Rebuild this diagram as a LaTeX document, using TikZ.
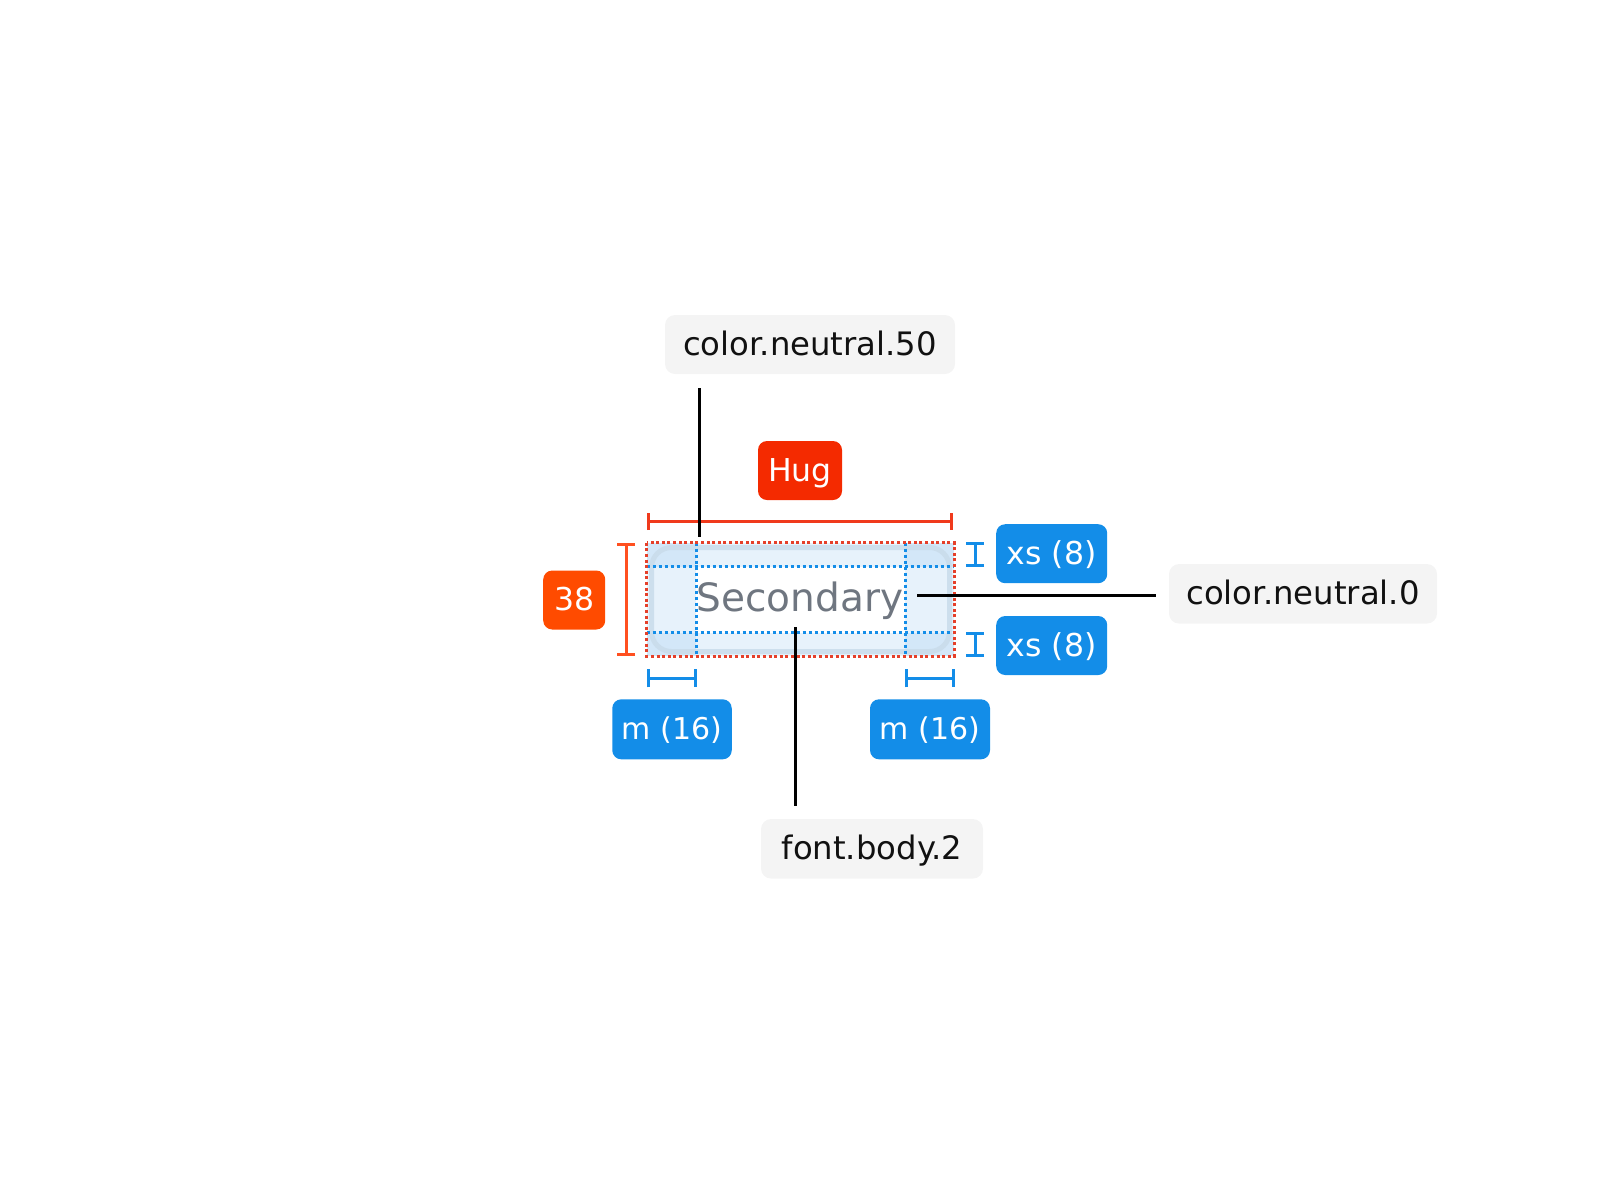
\documentclass[tikz,border=0pt]{standalone}
\usepackage{fontspec}
\setmainfont{DejaVu Sans}
\usetikzlibrary{arrows.meta}
\definecolor{lblbg}{HTML}{F4F4F4}
\definecolor{ink}{HTML}{111111}
\definecolor{hugred}{HTML}{F42A00}
\definecolor{hugline}{HTML}{F03A1C}
\definecolor{orng}{HTML}{FF4B00}
\definecolor{orngline}{HTML}{FF5020}
\definecolor{specblue}{HTML}{138DE8}
\definecolor{padblue}{HTML}{E7F2FB}
\definecolor{cornblue}{HTML}{D3E7F8}
\definecolor{btnedge}{HTML}{C9DCEB}
\definecolor{secgray}{HTML}{6F7680}
\definecolor{dotred}{HTML}{E5402A}
\begin{document}
\begin{tikzpicture}[x=1pt,y=-1pt,
  tag/.style={fill=lblbg, rounded corners=10pt, inner sep=0pt, text height=21pt, text depth=0pt,
    font=\fontsize{32.3}{38}\selectfont, text=ink},
  badge/.style={rounded corners=9pt, inner sep=0pt, text height=21pt, text depth=0pt,
    text=white, font=\fontsize{31.5}{36}\selectfont},
  conn/.style={line width=3pt, black},
  ibar/.style={line width=3pt, {Bar[width=18pt]}-{Bar[width=18pt]}},
  bluedot/.style={specblue, line width=3pt, dash pattern=on 3pt off 3pt},
  reddot/.style={dotred, line width=3pt, dash pattern=on 3pt off 2.6pt}
]
\useasboundingbox (0,0) rectangle (1600,1200);

% button area
\fill[padblue] (646.7,542.7) rectangle (954,656);
\fill[white] (696,566.7) rectangle (905,632.7);
\fill[cornblue] (646.7,542.7) rectangle (696,566.7);
\fill[cornblue] (905,542.7) rectangle (954,566.7);
\fill[cornblue] (646.7,632.7) rectangle (696,656);
\fill[cornblue] (905,632.7) rectangle (954,656);
\draw[btnedge, line width=5pt, rounded corners=20pt, opacity=0.85] (651.5,547.5) rectangle (949.5,651.5);

\node[font=\fontsize{39}{44}\selectfont, text=secgray, anchor=base, inner sep=0pt] (sec) at (800,611.7) {Secondary};

% padding guides
\draw[bluedot] (696,542.7) -- (696,656);
\draw[bluedot] (905,542.7) -- (905,656);
\draw[bluedot] (646.7,566.7) -- (954,566.7);
\draw[bluedot] (646.7,632.7) -- (954,632.7);
\draw[reddot] (646.7,542.7) rectangle (954,656);

% labels
\node[tag, minimum width=290pt, minimum height=59pt] (lblA) at (810,344.5) {color.neutral.50};
\node[tag, minimum width=268pt, minimum height=59.5pt] (lblB) at (1303,593.8) {color.neutral.0};
\node[tag, minimum width=222pt, minimum height=59.5pt] (lblC) at (872,848.8) {font.body.2};

% badges
\node[badge, fill=hugred, minimum width=84pt, minimum height=59pt] (hug) at (800,470.5) {Hug};
\node[badge, fill=orng, minimum width=62pt, minimum height=59pt] (b38) at (574.2,600) {38};
\node[badge, fill=specblue, minimum width=111pt, minimum height=59pt] (xs1) at (1051.7,553.7) {xs (8)};
\node[badge, fill=specblue, minimum width=111pt, minimum height=59pt] (xs2) at (1051.7,645.5) {xs (8)};
\node[badge, fill=specblue, minimum width=119.5pt, minimum height=60pt, font=\fontsize{30}{36}\selectfont] (m1) at (672,729.3) {m (16)};
\node[badge, fill=specblue, minimum width=120pt, minimum height=60pt, font=\fontsize{30}{36}\selectfont] (m2) at (930,729.3) {m (16)};

% dimension bars
\coordinate (hugL) at (646.7,521.7);
\coordinate (hugR) at (953.3,521.7);
\draw[ibar, hugline, {Bar[width=17pt]}-{Bar[width=17pt]}] (hugL) -- (hugR);
\coordinate (hT) at (626,542.7);
\coordinate (hB) at (626,656);
\draw[ibar, orngline] (hT) -- (hB);
\coordinate (xs1T) at (975,542.3);
\coordinate (xs1B) at (975,567.3);
\draw[ibar, specblue] (xs1T) -- (xs1B);
\coordinate (xs2T) at (975,631.7);
\coordinate (xs2B) at (975,656.7);
\draw[ibar, specblue] (xs2T) -- (xs2B);
\coordinate (m1L) at (646.7,678.3);
\coordinate (m1R) at (696.7,678.3);
\draw[ibar, specblue] (m1L) -- (m1R);
\coordinate (m2L) at (905,678.3);
\coordinate (m2R) at (955,678.3);
\draw[ibar, specblue] (m2L) -- (m2R);

% connectors
\coordinate (a2) at (699,536.7);
\draw[conn] ([yshift=-14pt]lblA.south -| a2) -- (a2);
\coordinate (c2) at (795,626.7);
\draw[conn] ([yshift=13pt]lblC.north -| c2) -- (c2);
\coordinate (b2) at (916.7,595);
\draw[conn] ([xshift=-13pt]lblB.west |- b2) -- (b2);
\end{tikzpicture}
\end{document}
